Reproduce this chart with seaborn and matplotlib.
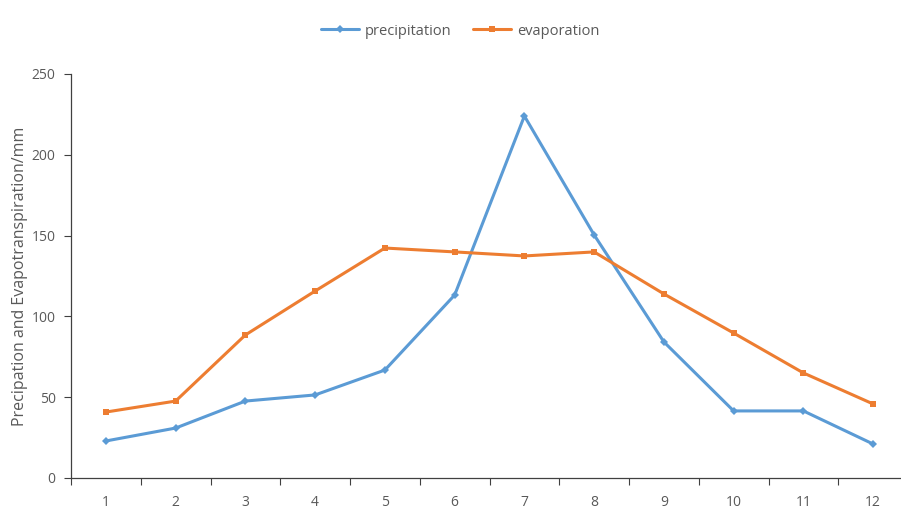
import pandas as pd
import matplotlib.pyplot as plt
import seaborn as sns

# data
months = [1, 2, 3, 4, 5, 6, 7, 8, 9, 10, 11, 12]
precipitation = [22.9, 30.9, 47.6, 51.4, 66.8, 113.2, 224.0, 150.4, 84.2, 41.5, 41.5, 21.0]
evaporation = [40.8, 47.6, 88.5, 115.7, 142.3, 139.9, 137.4, 139.9, 113.9, 89.7, 65.0, 45.8]

df = pd.DataFrame({'month': months, 'precipitation': precipitation, 'evaporation': evaporation})

sns.set_style('white')
plt.rcParams['font.family'] = ['Open Sans', 'DejaVu Sans']

fig = plt.figure(figsize=(9.01, 5.11), dpi=100)
ax = fig.add_axes([0.0788, 0.0646, 0.929, 0.7906])

sns.lineplot(data=df, x='month', y='precipitation', ax=ax, color='#5B9BD5',
             marker='D', markersize=4, linewidth=2.2, markeredgewidth=0,
             label='precipitation')
sns.lineplot(data=df, x='month', y='evaporation', ax=ax, color='#ED7D31',
             marker='s', markersize=5, linewidth=2.2, markeredgewidth=0,
             label='evaporation')

ax.set_xlim(0.5, 12.5)
ax.set_ylim(0, 250)
ax.set_xticks(months)
ax.set_xticks([m + 0.5 for m in range(0, 13)], minor=True)
ax.set_yticks(range(0, 251, 50))
ax.tick_params(axis='x', which='major', bottom=True, length=0, pad=12, labelsize=10, labelcolor='#595959')
ax.tick_params(axis='x', which='minor', bottom=True, length=5, width=0.8, color='#404040', direction='out')
ax.tick_params(axis='y', left=True, length=5, width=0.8, color='#404040', direction='out',
               labelsize=10, labelcolor='#595959', pad=6)

for s in ['top', 'right']:
    ax.spines[s].set_visible(False)
for s in ['left', 'bottom']:
    ax.spines[s].set_color('#404040')
    ax.spines[s].set_linewidth(0.9)

ax.set_xlabel('')
ax.set_ylabel('Precipation and Evapotranspiration/mm', fontsize=11.5, color='#595959', labelpad=3)

handles, labels = ax.get_legend_handles_labels()
ax.get_legend().remove()
fig.legend(handles, labels, loc='center', bbox_to_anchor=(460 / 901, 1 - 31 / 511),
           ncol=2, frameon=False, fontsize=10.5, labelcolor='#595959',
           handlelength=2.6, columnspacing=1.5, handletextpad=0.4)

plt.savefig('out.png', dpi=100)
